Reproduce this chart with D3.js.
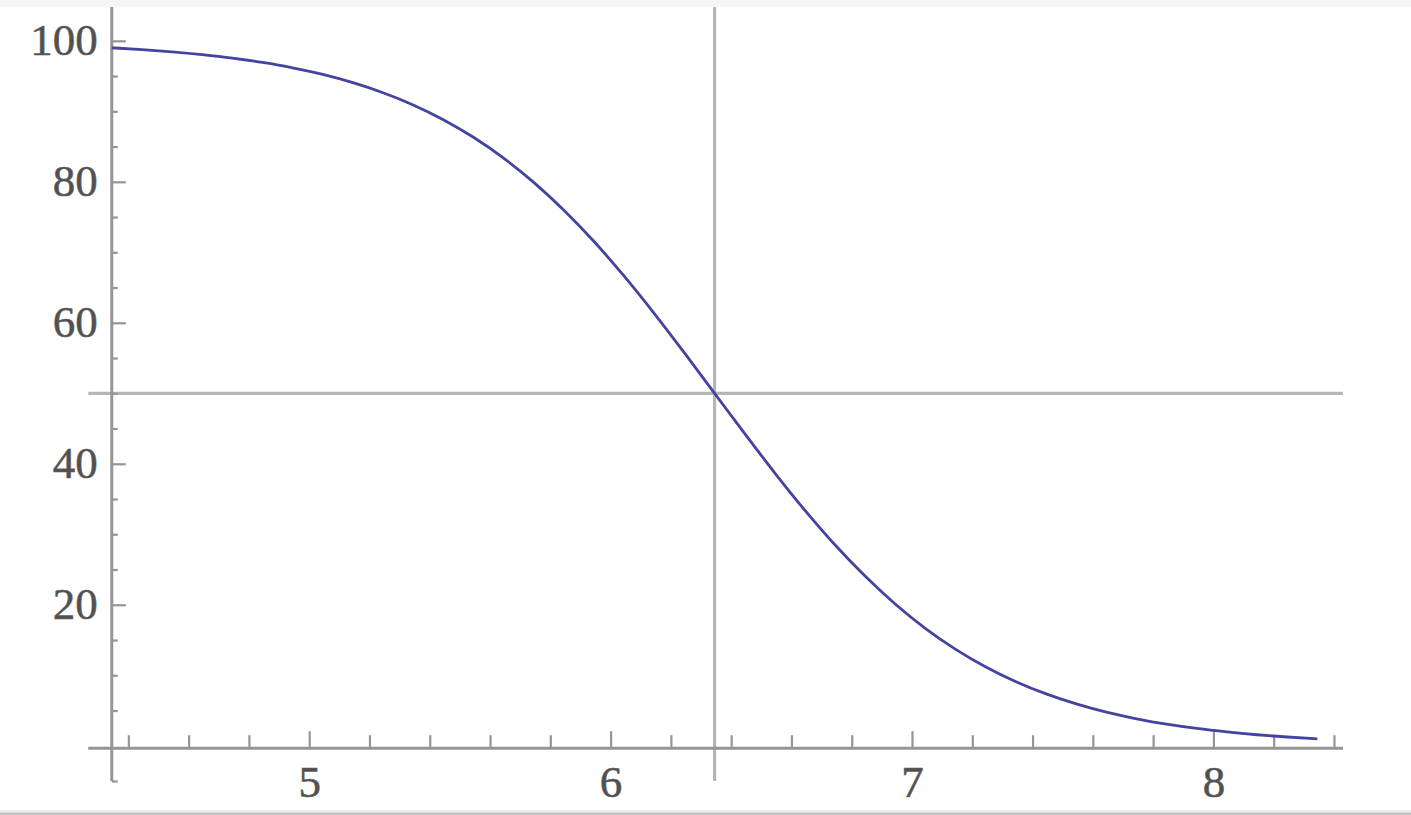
<!DOCTYPE html>
<html>
<head>
<meta charset="utf-8">
<script src="https://cdn.jsdelivr.net/npm/d3@7"></script>
<style>
  html, body { margin: 0; padding: 0; background: #fff; }
  svg { display: block; }
  .tick text { font-family: "Liberation Serif", "DejaVu Serif", serif; fill: #505050; stroke: #606060; stroke-width: 0.6px; }
</style>
</head>
<body>
<svg id="chart" width="1411" height="815"></svg>
<script>
// ---- data ----
const pH = [4.345, 4.445, 4.545, 4.645, 4.745, 4.845, 4.945, 5.045, 5.145, 5.245,
            5.345, 5.445, 5.545, 5.645, 5.745, 5.845, 5.945, 6.045, 6.145, 6.245,
            6.345, 6.445, 6.545, 6.645, 6.745, 6.845, 6.945, 7.045, 7.145, 7.245,
            7.345, 7.445, 7.545, 7.645, 7.745, 7.845, 7.945, 8.045, 8.145, 8.245, 8.345];
const percent = [99.01, 98.76, 98.44, 98.04, 97.55, 96.93, 96.17, 95.23, 94.06, 92.64,
                 90.91, 88.82, 86.32, 83.37, 79.92, 75.97, 71.53, 66.61, 61.31, 55.73,
                 50.0, 44.27, 38.69, 33.39, 28.47, 24.03, 20.08, 16.63, 13.68, 11.18,
                 9.09, 7.36, 5.94, 4.77, 3.83, 3.07, 2.45, 1.96, 1.56, 1.24, 0.99];
const xMajorTicks = [5, 6, 7, 8];
const xMinorTicks = [4.4, 4.6, 4.8, 5.2, 5.4, 5.6, 5.8, 6.2, 6.4, 6.6, 6.8,
                     7.2, 7.4, 7.6, 7.8, 8.2, 8.4];
const yMajorTicks = [20, 40, 60, 80, 100];
const yMinorTicks = [-5, 5, 10, 15, 25, 30, 35, 45, 50, 55, 65, 70, 75, 85, 90, 95];
const refX = [6.345];   // vertical reference line
const refY = [50];      // horizontal reference line
const xRange = [4.267, 8.43];
const yRange = [-5, 104.8];
const origin = { x: 4.345, y: -0.35 };

// ---- drawing ----
const svg = d3.select("#chart");
const W = 1411, H = 815;

// frame bands
svg.append("rect").attr("x", 0).attr("y", 0).attr("width", W).attr("height", 6.7).attr("fill", "#f5f5f5");
svg.append("rect").attr("x", 0).attr("y", 810).attr("width", W).attr("height", 2.4).attr("fill", "#eeeeee");
svg.append("rect").attr("x", 0).attr("y", 812.4).attr("width", W).attr("height", 2.6).attr("fill", "#c2c2c2");

const x = d3.scaleLinear().domain(xRange).range([309.2 - (5 - xRange[0]) * 301.4, 309.2 + (xRange[1] - 5) * 301.4]);
const y = d3.scaleLinear().domain(yRange).range([781, 7]);

const axisColor = "#959595";
const gridColor = "#b6b6b6";

// reference lines
svg.selectAll(".refx").data(refX).enter().append("line")
  .attr("x1", d => x(d)).attr("x2", d => x(d))
  .attr("y1", y(yRange[1])).attr("y2", y(yRange[0]))
  .attr("stroke", gridColor).attr("stroke-width", 3.2);
svg.selectAll(".refy").data(refY).enter().append("line")
  .attr("x1", x(xRange[0])).attr("x2", x(xRange[1]))
  .attr("y1", d => y(d)).attr("y2", d => y(d))
  .attr("stroke", gridColor).attr("stroke-width", 3.2);

// axis lines
svg.append("line")
  .attr("x1", x(xRange[0])).attr("x2", x(xRange[1]))
  .attr("y1", y(origin.y)).attr("y2", y(origin.y))
  .attr("stroke", axisColor).attr("stroke-width", 3);
svg.append("line")
  .attr("x1", x(origin.x)).attr("x2", x(origin.x))
  .attr("y1", y(yRange[1])).attr("y2", y(yRange[0]))
  .attr("stroke", axisColor).attr("stroke-width", 3);

// x axis ticks
const gxMinor = svg.append("g").attr("transform", `translate(0,${y(origin.y)})`)
  .call(d3.axisBottom(x).tickValues(xMinorTicks).tickSizeInner(-13).tickSizeOuter(0).tickFormat(""));
const gxMajor = svg.append("g").attr("transform", `translate(0,${y(origin.y)})`)
  .call(d3.axisBottom(x).tickValues(xMajorTicks).tickSizeInner(-17).tickSizeOuter(0).tickPadding(17).tickFormat(d3.format("d")));

// y axis ticks
const gyMinor = svg.append("g").attr("transform", `translate(${x(origin.x)},0)`)
  .call(d3.axisLeft(y).tickValues(yMinorTicks).tickSizeInner(-6).tickSizeOuter(0).tickFormat(""));
const gyMajor = svg.append("g").attr("transform", `translate(${x(origin.x)},0)`)
  .call(d3.axisLeft(y).tickValues(yMajorTicks).tickSizeInner(-14).tickSizeOuter(0).tickPadding(14).tickFormat(d3.format("d")));

[gxMinor, gxMajor, gyMinor, gyMajor].forEach(g => {
  g.select(".domain").remove();
  g.selectAll(".tick line").attr("stroke", axisColor).attr("stroke-width", 2.2);
  g.selectAll(".tick text").attr("font-size", 45);
});
gyMajor.selectAll(".tick text").attr("dy", "0.30em");

// curve
const pts = pH.map((v, i) => [v, percent[i]]);
const line = d3.line().x(d => x(d[0])).y(d => y(d[1])).curve(d3.curveMonotoneX);
svg.append("path").datum(pts)
  .attr("d", line)
  .attr("fill", "none")
  .attr("stroke", "#4444a0")
  .attr("stroke-width", 2.8)
  .attr("stroke-linejoin", "round");
</script>
</body>
</html>
